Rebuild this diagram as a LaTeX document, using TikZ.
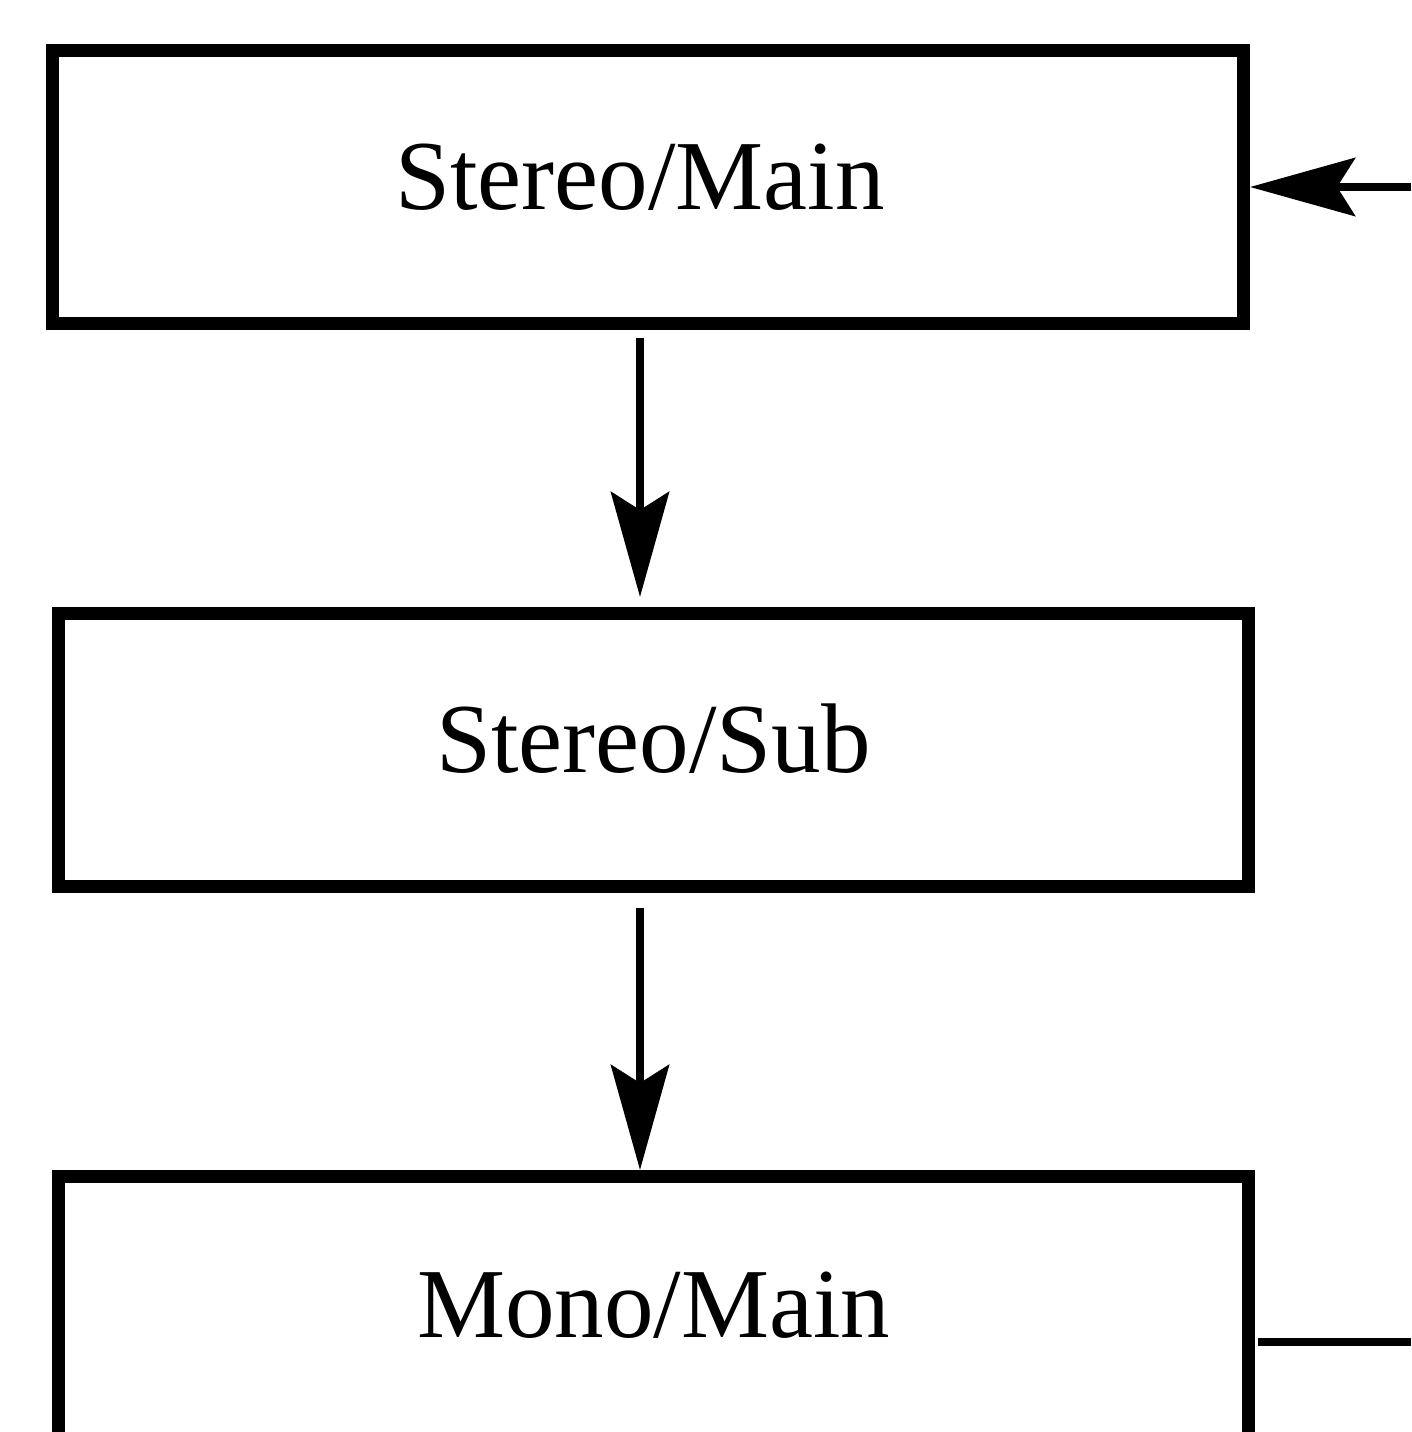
\documentclass[tikz,border=0pt]{standalone}
\usepackage{fontspec}
\setmainfont{Liberation Serif}
\usetikzlibrary{arrows.meta}
\begin{document}
\begin{tikzpicture}[x=1pt,y=-1pt,
  boxnode/.style={draw=black,line width=13pt,rectangle,inner sep=0pt,
    minimum width=1190pt,minimum height=273pt},
  lbl/.style={anchor=base,inner sep=0pt,font=\fontsize{99}{110}\selectfont},
  conn/.style={line width=8.5pt},
  arr/.style={conn,-{Stealth[length=105pt,width=58pt,inset=18pt]}}]
\useasboundingbox (0,0) rectangle (1411,1432);
\node[boxnode,minimum width=1191pt] (box1) at (648,187) {};
\node[boxnode] (box2) at (653.5,750) {};
\node[boxnode] (box3) at (653.5,1313) {};
\node[lbl] (t1) at (640,209) {Stereo/Main};
\node[lbl] (t2) at (653.5,772) {Stereo/Sub};
\node[lbl] (t3) at (653.5,1337) {Mono/Main};
\draw[arr] ([shift={(-8,8)}]box1.south) -- ([shift={(-13.5,-10)}]box2.north);
\draw[arr] ([shift={(-13.5,15)}]box2.south) -- ([xshift=-13.5]box3.north);
\coordinate (in1) at (1411,187);
\draw[arr] (in1) -- (box1.east);
\coordinate (out3) at (1411,1342);
\draw[conn] ([xshift=3]box3.east |- out3) -- (out3);
\end{tikzpicture}
\end{document}
